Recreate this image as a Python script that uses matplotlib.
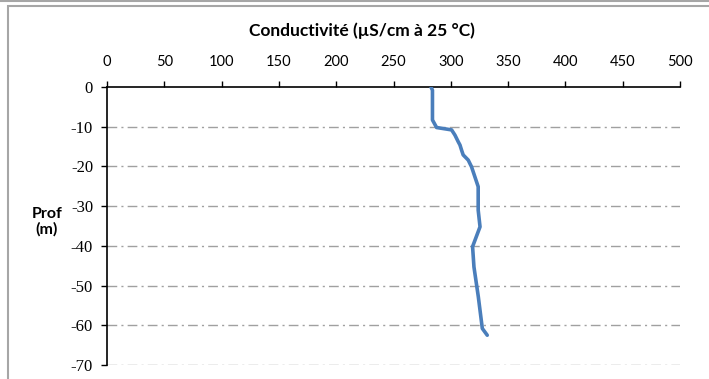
import matplotlib
matplotlib.use("Agg")
from matplotlib import pyplot as plt
from matplotlib.patches import Rectangle
from matplotlib.lines import Line2D

plt.rcParams['axes.unicode_minus'] = False

# profil de conductivité
conductivite = [282.7, 284.0, 284.0, 287.6, 300.7, 303.6, 306.5, 308.0, 309.4, 310.8,
                315.2, 318.1, 321.0, 323.9, 323.9, 325.5, 319.0, 320.2, 324.0, 327.5, 331.8]
profondeur = [0.0, -0.8, -8.3, -10.2, -10.8, -12.1, -13.8, -14.6, -15.9, -17.1,
              -18.4, -20.1, -22.6, -25.1, -31.0, -35.2, -40.2, -45.3, -52.8, -60.8, -62.5]

x_ticks = [0, 50, 100, 150, 200, 250, 300, 350, 400, 450, 500]
y_ticks = [0, -10, -20, -30, -40, -50, -60, -70]

fig = plt.figure(figsize=(7.09, 3.79), dpi=100)

# cadre gris du graphique
fig.add_artist(Rectangle((8 / 709, -0.1), 1.2, 1 - 6.5 / 379 + 0.1, transform=fig.transFigure,
                         fill=False, edgecolor='#a6a6a6', linewidth=1.5))
fig.add_artist(Line2D([0, 1], [1 - 0.5 / 379, 1 - 0.5 / 379], transform=fig.transFigure,
                      color='#a6a6a6', linewidth=1.5))

ax = fig.add_axes([107 / 709, 1 - 365 / 379, (680 - 107) / 709, (365 - 87) / 379])

for y in y_ticks[1:]:
    ax.axhline(y, color='#a0a0a0', linewidth=1, dashes=(7, 3, 1.5, 3), zorder=1)

ax.plot(conductivite, profondeur, color='#4a7ebb', linewidth=2.6, zorder=3,
        solid_joinstyle='round', solid_capstyle='round')

ax.set_xlim(0, 500)
ax.set_ylim(-70, 0)
ax.set_xticks(x_ticks)
ax.set_yticks(y_ticks)
ax.xaxis.tick_top()
ax.tick_params(axis='x', direction='out', length=4, width=1, pad=9, labelsize=10.5)
ax.tick_params(axis='y', direction='out', length=4, width=1, pad=6, labelsize=12)
for lab in ax.get_xticklabels():
    lab.set_fontfamily('Lato')
for lab in ax.get_yticklabels():
    lab.set_fontfamily('Liberation Serif')

ax.spines['right'].set_visible(False)
ax.spines['bottom'].set_visible(False)
ax.spines['left'].set_linewidth(1.2)
ax.spines['top'].set_linewidth(1.2)

fig.text(362 / 709, 1 - 31 / 379, 'Conductivité (µS/cm à 25 °C)', ha='center', va='center',
         fontsize=12.5, fontweight='bold', family='Lato')
fig.text(47 / 709, 1 - 222 / 379, 'Prof\n(m)', ha='center', va='center',
         fontsize=11.5, fontweight='bold', family='Lato', linespacing=1.05)

fig.savefig('out.png', dpi=100)
